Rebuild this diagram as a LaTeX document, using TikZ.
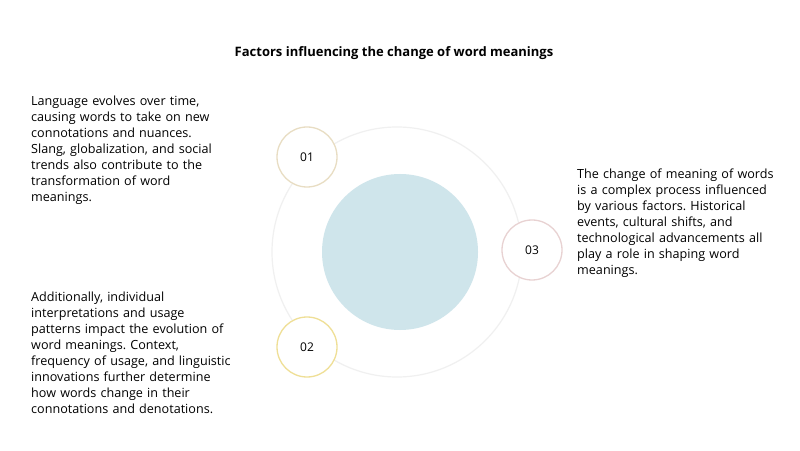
\documentclass[tikz,border=0pt]{standalone}
\usepackage{fontspec}
\setmainfont{Open Sans}
\frenchspacing
\begin{document}
\begin{tikzpicture}[x=1pt,y=1pt,
  body/.style={anchor=north west,inner sep=0pt,text width=260pt,align=left,font=\fontsize{12.6}{16}\selectfont,text=black},
  numc/.style={circle,draw=#1,line width=1.3pt,fill=white,minimum size=60pt,inner sep=0pt,font=\fontsize{12}{14}\selectfont,text=black}]
\useasboundingbox[fill=white] (0,0) rectangle (800,450);
\definecolor{ringc}{HTML}{F0F0F0}
\definecolor{innerc}{HTML}{CFE5EB}
\definecolor{c1c}{HTML}{E8DDC3}
\definecolor{c2c}{HTML}{EFDF96}
\definecolor{c3c}{HTML}{E8D2D2}
\node[font=\bfseries\fontsize{13}{15}\selectfont,text=black] (title) at (394,397) {Factors influencing the change of word meanings};
\node[circle,draw=ringc,line width=1.2pt,minimum size=250pt,inner sep=0pt] (ring) at (397,198) {};
\node[circle,fill=innerc,minimum size=156pt,inner sep=0pt] (inner) at (400,198) {};
\node[numc=c1c] (n1) at (307,293) {01};
\node[numc=c2c] (n2) at (307,103) {02};
\node[numc=c3c] (n3) at (532,200) {03};
\node[body] (t1) at (31,354) {Language evolves over time,\\causing words to take on new\\connotations and nuances.\\Slang, globalization, and social\\trends also contribute to the\\transformation of word\\meanings.};
\node[body] (t2) at (31,158) {Additionally, individual\\interpretations and usage\\patterns impact the evolution of\\word meanings. Context,\\frequency of usage, and linguistic\\innovations further determine\\how words change in their\\connotations and denotations.};
\node[body] (t3) at (577,281) {The change of meaning of words\\is a complex process influenced\\by various factors. Historical\\events, cultural shifts, and\\technological advancements all\\play a role in shaping word\\meanings.};
\end{tikzpicture}
\end{document}
